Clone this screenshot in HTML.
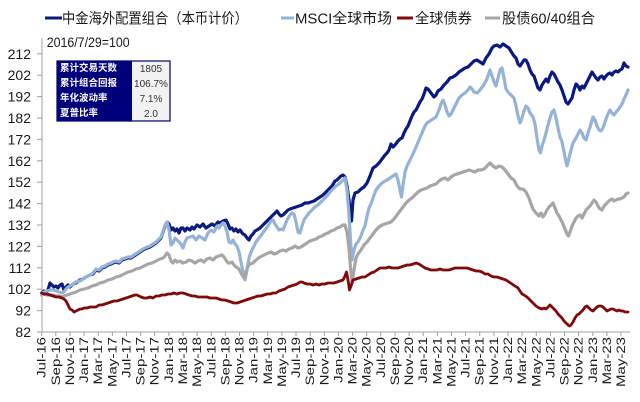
<!DOCTYPE html>
<html><head><meta charset="utf-8"><style>
html,body{margin:0;padding:0;background:#fff;}
svg{display:block;}
text{font-family:"Liberation Sans","Noto Sans CJK SC",sans-serif;fill:#1a1a1a;}
</style></head><body>
<svg width="640" height="402" viewBox="0 0 640 402" xmlns="http://www.w3.org/2000/svg">
<rect width="640" height="402" fill="#fff"/>
<!-- legend -->
<line x1="45" y1="18" x2="62" y2="18" stroke="#0a1a7f" stroke-width="3"/>
<text x="62" y="23.5" font-size="14.5" textLength="186" lengthAdjust="spacingAndGlyphs">中金海外配置组合（本币计价）</text>
<line x1="281" y1="18" x2="294" y2="18" stroke="#95b3d7" stroke-width="3"/>
<text x="295" y="23.5" font-size="14.5" textLength="97" lengthAdjust="spacingAndGlyphs">MSCI全球市场</text>
<line x1="397" y1="18" x2="413" y2="18" stroke="#7f0a0a" stroke-width="3"/>
<text x="415" y="23.5" font-size="14.5" textLength="57" lengthAdjust="spacingAndGlyphs">全球债券</text>
<line x1="485" y1="18" x2="500" y2="18" stroke="#a6a6a6" stroke-width="3"/>
<text x="502" y="23.5" font-size="14.5" textLength="93" lengthAdjust="spacingAndGlyphs">股债60/40组合</text>

<!-- axes -->
<g stroke="#a0a0a0" stroke-width="1">
<line x1="42" y1="38" x2="42" y2="332"/>
<line x1="42" y1="332" x2="630" y2="332"/>
<line x1="37" y1="53.8" x2="42" y2="53.8"/><line x1="37" y1="75.2" x2="42" y2="75.2"/><line x1="37" y1="96.6" x2="42" y2="96.6"/><line x1="37" y1="118" x2="42" y2="118"/><line x1="37" y1="139.4" x2="42" y2="139.4"/><line x1="37" y1="160.8" x2="42" y2="160.8"/><line x1="37" y1="182.2" x2="42" y2="182.2"/><line x1="37" y1="203.6" x2="42" y2="203.6"/><line x1="37" y1="225" x2="42" y2="225"/><line x1="37" y1="246.4" x2="42" y2="246.4"/><line x1="37" y1="267.8" x2="42" y2="267.8"/><line x1="37" y1="289.2" x2="42" y2="289.2"/><line x1="37" y1="310.6" x2="42" y2="310.6"/><line x1="37" y1="332" x2="42" y2="332"/>
</g>
<g stroke="#a0a0a0" stroke-width="1">
<line x1="41.7" y1="332" x2="41.7" y2="336"/><line x1="55.8" y1="332" x2="55.8" y2="336"/><line x1="70" y1="332" x2="70" y2="336"/><line x1="84.1" y1="332" x2="84.1" y2="336"/><line x1="98.2" y1="332" x2="98.2" y2="336"/><line x1="112.4" y1="332" x2="112.4" y2="336"/><line x1="126.5" y1="332" x2="126.5" y2="336"/><line x1="140.6" y1="332" x2="140.6" y2="336"/><line x1="154.7" y1="332" x2="154.7" y2="336"/><line x1="168.9" y1="332" x2="168.9" y2="336"/><line x1="183" y1="332" x2="183" y2="336"/><line x1="197.1" y1="332" x2="197.1" y2="336"/><line x1="211.3" y1="332" x2="211.3" y2="336"/><line x1="225.4" y1="332" x2="225.4" y2="336"/><line x1="239.5" y1="332" x2="239.5" y2="336"/><line x1="253.7" y1="332" x2="253.7" y2="336"/><line x1="267.8" y1="332" x2="267.8" y2="336"/><line x1="281.9" y1="332" x2="281.9" y2="336"/><line x1="296" y1="332" x2="296" y2="336"/><line x1="310.2" y1="332" x2="310.2" y2="336"/><line x1="324.3" y1="332" x2="324.3" y2="336"/><line x1="338.4" y1="332" x2="338.4" y2="336"/><line x1="352.6" y1="332" x2="352.6" y2="336"/><line x1="366.7" y1="332" x2="366.7" y2="336"/><line x1="380.8" y1="332" x2="380.8" y2="336"/><line x1="395" y1="332" x2="395" y2="336"/><line x1="409.1" y1="332" x2="409.1" y2="336"/><line x1="423.2" y1="332" x2="423.2" y2="336"/><line x1="437.3" y1="332" x2="437.3" y2="336"/><line x1="451.5" y1="332" x2="451.5" y2="336"/><line x1="465.6" y1="332" x2="465.6" y2="336"/><line x1="479.7" y1="332" x2="479.7" y2="336"/><line x1="493.9" y1="332" x2="493.9" y2="336"/><line x1="508" y1="332" x2="508" y2="336"/><line x1="522.1" y1="332" x2="522.1" y2="336"/><line x1="536.3" y1="332" x2="536.3" y2="336"/><line x1="550.4" y1="332" x2="550.4" y2="336"/><line x1="564.5" y1="332" x2="564.5" y2="336"/><line x1="578.6" y1="332" x2="578.6" y2="336"/><line x1="592.8" y1="332" x2="592.8" y2="336"/><line x1="606.9" y1="332" x2="606.9" y2="336"/><line x1="621" y1="332" x2="621" y2="336"/>
</g>

<!-- y labels -->
<g font-size="14" text-anchor="end">
<text x="31" y="58.8">212</text><text x="31" y="80.2">202</text><text x="31" y="101.6">192</text><text x="31" y="123">182</text><text x="31" y="144.4">172</text><text x="31" y="165.8">162</text><text x="31" y="187.2">152</text><text x="31" y="208.6">142</text><text x="31" y="230">132</text><text x="31" y="251.4">122</text><text x="31" y="272.8">112</text><text x="31" y="294.2">102</text><text x="31" y="315.6">92</text><text x="31" y="337">82</text>
</g>

<!-- x labels -->
<g font-size="15" text-anchor="end">
<text transform="translate(45.7,337) scale(0.78,1) rotate(-90)">Jul-16</text>
<text transform="translate(59.8,337) scale(0.78,1) rotate(-90)">Sep-16</text>
<text transform="translate(74,337) scale(0.78,1) rotate(-90)">Nov-16</text>
<text transform="translate(88.1,337) scale(0.78,1) rotate(-90)">Jan-17</text>
<text transform="translate(102.2,337) scale(0.78,1) rotate(-90)">Mar-17</text>
<text transform="translate(116.4,337) scale(0.78,1) rotate(-90)">May-17</text>
<text transform="translate(130.5,337) scale(0.78,1) rotate(-90)">Jul-17</text>
<text transform="translate(144.6,337) scale(0.78,1) rotate(-90)">Sep-17</text>
<text transform="translate(158.7,337) scale(0.78,1) rotate(-90)">Nov-17</text>
<text transform="translate(172.9,337) scale(0.78,1) rotate(-90)">Jan-18</text>
<text transform="translate(187,337) scale(0.78,1) rotate(-90)">Mar-18</text>
<text transform="translate(201.1,337) scale(0.78,1) rotate(-90)">May-18</text>
<text transform="translate(215.3,337) scale(0.78,1) rotate(-90)">Jul-18</text>
<text transform="translate(229.4,337) scale(0.78,1) rotate(-90)">Sep-18</text>
<text transform="translate(243.5,337) scale(0.78,1) rotate(-90)">Nov-18</text>
<text transform="translate(257.7,337) scale(0.78,1) rotate(-90)">Jan-19</text>
<text transform="translate(271.8,337) scale(0.78,1) rotate(-90)">Mar-19</text>
<text transform="translate(285.9,337) scale(0.78,1) rotate(-90)">May-19</text>
<text transform="translate(300,337) scale(0.78,1) rotate(-90)">Jul-19</text>
<text transform="translate(314.2,337) scale(0.78,1) rotate(-90)">Sep-19</text>
<text transform="translate(328.3,337) scale(0.78,1) rotate(-90)">Nov-19</text>
<text transform="translate(342.4,337) scale(0.78,1) rotate(-90)">Jan-20</text>
<text transform="translate(356.6,337) scale(0.78,1) rotate(-90)">Mar-20</text>
<text transform="translate(370.7,337) scale(0.78,1) rotate(-90)">May-20</text>
<text transform="translate(384.8,337) scale(0.78,1) rotate(-90)">Jul-20</text>
<text transform="translate(399,337) scale(0.78,1) rotate(-90)">Sep-20</text>
<text transform="translate(413.1,337) scale(0.78,1) rotate(-90)">Nov-20</text>
<text transform="translate(427.2,337) scale(0.78,1) rotate(-90)">Jan-21</text>
<text transform="translate(441.3,337) scale(0.78,1) rotate(-90)">Mar-21</text>
<text transform="translate(455.5,337) scale(0.78,1) rotate(-90)">May-21</text>
<text transform="translate(469.6,337) scale(0.78,1) rotate(-90)">Jul-21</text>
<text transform="translate(483.7,337) scale(0.78,1) rotate(-90)">Sep-21</text>
<text transform="translate(497.9,337) scale(0.78,1) rotate(-90)">Nov-21</text>
<text transform="translate(512,337) scale(0.78,1) rotate(-90)">Jan-22</text>
<text transform="translate(526.1,337) scale(0.78,1) rotate(-90)">Mar-22</text>
<text transform="translate(540.3,337) scale(0.78,1) rotate(-90)">May-22</text>
<text transform="translate(554.4,337) scale(0.78,1) rotate(-90)">Jul-22</text>
<text transform="translate(568.5,337) scale(0.78,1) rotate(-90)">Sep-22</text>
<text transform="translate(582.6,337) scale(0.78,1) rotate(-90)">Nov-22</text>
<text transform="translate(596.8,337) scale(0.78,1) rotate(-90)">Jan-23</text>
<text transform="translate(610.9,337) scale(0.78,1) rotate(-90)">Mar-23</text>
<text transform="translate(625,337) scale(0.78,1) rotate(-90)">May-23</text>
</g>

<!-- series -->
<g fill="none" stroke-linejoin="round" stroke-linecap="round">
<polyline stroke="#0a1a7f" stroke-width="3.2" points="41.7,293 44,291 46,293 48,290 50,283 52,285 54,287 56,286 58,288 60,285 62,284 64,290 66,287 68,285 70,287 73,284 76,283 80,280 83,279 86,277 90,275 93,274 96,270 99,271 102,268 105,267 108,265 111,264 113,263 116,262 119,263 122,260 125,259 128,258 131,258 134,256 137,254 140,252 143,250 147,248 150,247 153,245 156,243 159,240 161,238 163,232 165,226 167,222 169,224 171,230 173,228 175,231 177,229 179,233 181,228 183,228 185,231 187,228 190,230 192,227 194,229 197,225 200,227 203,224 206,228 209,226 212,224 215,226 218,222 220,223 223,221 226,220 228,224 230,229 232,228 234,231 236,229 238,232 240,230 243,234 245,235 247,238 249,240 251,236 253,234 255,231 257,230 260,228 263,225 266,222 269,219 272,216 275,213 277,211 279,214 281,216 283,215 285,213 288,210 290,209 293,208 296,207 299,206 302,205 305,203 308,203 311,202 314,201 317,199 320,197 323,195 326,192 329,189 332,186 335,181 337,180 339,178 341,176 343,175 345,177 347,186 349,200 350,210 351.5,221 353,200 355,193 358,192 361,189 364,187 367,183 370,176 373,168 376,166 379,163 382,159 385,155 387,153 389,150 391,144 393,147 395,145 398,141 400,139 402,138 404,133 406,129 408,126 410,121 412,116 414,112 416,110 418,106 420,102 422,99 424,94 426,88 428,89 431,93 434,97 436,95 438,91 441,89 444,85 447,82 450,78 453,77 456,75 459,72 462,70 465,68 468,67 471,64 474,61 477,60 480,62 483,64 486,58 489,54 492,48 494,46 497,45 500,47 503,44 506,46 509,48 512,53 514,56 516,58 518,64 520,66 522,63 524,60 526,60 528,64 530,70 532,74 534,76 536,82 538,88 540,90 542,85 544,82 546,79 548,82 550,76 552,72 554,74 556,78 558,82 560,85 562,90 564,96 566,102 568,104 570,101 572,98 574,90 576,84 578,86 580,90 582,86 584,88 586,84 588,80 590,76 592,72 594,75 596,78 598,80 600,77 602,76 604,79 606,76 608,74 610,73 612,75 614,72 616,71 618,72 620,70 622,69 624,63 626,66 628,67"/>
<polyline stroke="#95b3d7" stroke-width="3.2" points="41.7,293 44,292 47,291 50,290 53,290 56,291 59,292 62,293 64,292 66,289 68,287 70,286 73,284 76,282 80,281 83,279 86,277 90,275 93,273 96,269 99,270 102,267 105,266 108,264 111,263 113,262 116,261 119,262 122,259 125,258 128,257 131,257 134,255 137,253 140,251 143,249 147,247 150,246 153,244 156,242 159,239 161,237 163,231 165,225 167,222 169,230 171,245 173,243 175,238 177,240 179,242 181,244 183,248 185,242 187,238 190,237 193,236 196,240 199,236 202,238 205,240 208,233 211,230 214,232 217,226 219,228 221,225 223,223 225,226 227,232 229,242 231,243 233,240 235,244 237,246 239,252 241,262 243,272 245,280 247,270 249,258 251,252 253,248 256,242 259,238 262,234 265,230 268,226 271,221 273,220 275,224 277,227 279,230 281,229 283,230 285,225 287,220 290,215 292,213 294,214 296,222 298,232 300,233 302,226 304,220 306,217 309,213 312,210 315,207 318,205 321,202 324,199 327,196 330,192 333,189 336,186 339,184 341,182 343,180 345,178 347,190 349,215 350.5,240 352,260 354,250 356,244 358,242 361,236 363,230 365,226 367,216 369,208 371,204 373,198 376,190 379,186 382,183 385,181 387,180 390,178 393,176 396,174 398,180 400,190 401.5,197 403,185 405,172 407,166 410,160 413,154 416,147 419,140 422,133 425,126 427,123 430,121 433,119 436,117 439,110 441,104 443,100 445,105 447,112 449,116 451,114 453,110 456,104 459,98 462,95 465,93 468,90 470,87 472,89 474,92 477,93 480,90 483,86 486,81 488,76 490,70 492,76 494,82 496,86 498,78 500,70 502,68 504,78 506,89 508,92 511,95 514,98 516,106 518,116 520,123 522,118 524,111 526,106 528,108 530,113 533,117 535,124 537,138 539,150 540.5,153 542,146 544,140 546,133 548,125 550,118 552,112 554,110 556,118 558,128 560,137 562,142 564,152 566,162 567,166 569,158 571,150 573,143 576,138 578,134 580,130 582,133 584,138 586,140 588,133 590,127 593,117 595,120 597,126 599,130 601,131 603,128 605,122 607,116 610,110 612,113 614,115 616,112 618,110 620,107 622,104 624,99 626,95 628,90"/>
<polyline stroke="#a6a6a6" stroke-width="3.2" points="41.7,295 44,294 47,295 50,295 53,295 56,296 59,296 62,297 64,296 67,295 70,294 73,293 76,292 80,290 84,289 88,288 92,286 96,285 100,283 104,282 108,280 112,279 116,277 120,276 124,274 128,272 132,271 136,269 140,268 144,266 148,264 152,263 156,261 160,259 163,258 165,256 167,253 169,255 171,261 173,263 175,260 177,262 180,261 183,263 186,262 189,260 192,261 195,263 198,261 201,260 204,262 207,259 210,258 213,260 216,257 219,256 222,255 224,257 226,260 228,263 230,263 232,262 234,265 236,267 238,268 240,271 242,275 244,278 246,272 248,266 250,264 253,263 256,260 260,257 264,255 268,253 271,252 274,254 277,253 280,251 283,250 286,251 289,249 292,248 295,246 298,248 301,247 304,245 307,243 310,241 313,240 316,239 319,237 322,236 325,234 328,233 331,231 334,230 337,228 340,227 343,225 345,225 347,232 349,248 350.5,268 352,283 354,270 356,258 358,254 361,250 364,245 367,242 370,238 373,234 376,230 379,227 382,225 385,224 388,223 391,222 394,219 397,215 400,211 403,207 406,203 409,200 412,198 415,195 418,192 421,190 424,189 427,188 430,186 433,185 436,184 439,181 442,179 445,178 448,180 451,177 454,175 457,174 460,173 463,172 466,171 469,170 472,171 475,172 478,170 481,170 484,169 487,166 490,163 493,166 496,168 499,166 502,167 505,170 508,174 511,178 514,180 517,186 520,189 523,189 526,192 529,198 531,204 533,209 535,212 537,214 539,216 541,213 543,217 545,214 547,210 549,207 551,205 553,203 555,208 557,213 559,216 561,220 563,224 565,229 567,234 568.5,236 570,232 572,226 574,222 576,218 578,216 580,215 582,218 584,214 586,210 588,208 590,206 592,203 594,200 596,202 598,206 600,209 602,210 604,206 606,204 608,202 610,200 612,199 614,201 616,200 618,199 620,199 622,198 624,197 626,194 628,193"/>
<polyline stroke="#7f0a0a" stroke-width="2.8" points="41.7,293 44,294 47,294 50,295 53,296 56,297 59,297 62,298 64,299 66,301 68,305 70,309 72,310 74,312 76,311 78,310 80,309 82,309 84,308 87,308 90,307 93,307 96,307 99,305 102,305 105,304 108,303 111,302 114,301 117,301 120,300 123,299 126,298 129,297 132,296 135,295 137,295 139,296 141,297 144,298 147,298 150,297 153,298 156,296 159,296 162,295 165,295 168,294 171,294 174,293 177,294 180,293 183,293 186,294 189,295 192,296 195,296 198,297 201,297 204,297 207,297 210,298 213,298 216,298 219,299 222,300 225,300 228,301 231,302 234,303 237,303 240,302 243,301 246,300 249,299 252,298 255,297 258,296 261,296 264,295 267,294 270,294 273,293 276,293 279,291 282,290 285,289 288,287 291,286 294,285 297,284 300,282 302,282 304,283 307,284 310,284 313,285 316,284 319,285 322,284 325,284 328,283 331,283 334,283 337,282 340,281 343,280 345,276 346.5,272 348,280 349.5,290 351,286 353,280 356,279 359,278 362,277 365,277 368,275 371,273 374,272 377,270 380,268 383,268 386,268 389,267 392,268 395,268 398,268 401,267 404,266 407,265 410,265 413,264 416,263 419,264 422,266 425,268 428,269 431,270 434,270 437,270 440,269 443,270 446,270 449,270 452,269 455,268 458,268 461,268 464,268 467,268 470,269 473,270 476,271 479,271 482,272 485,274 488,274 491,276 494,277 497,277 500,278 503,279 506,280 509,282 512,284 515,286 518,288 520,291 522,294 524,295 527,297 530,300 533,303 536,306 539,308 542,309 544,308 546,309 548,307 550,305 552,307 554,309 556,311 558,314 560,316 562,318 564,321 566,323 568,325 569.5,326 571,325 573,322 575,318 577,315 579,314 581,312 583,310 585,307 587,306 589,308 591,310 593,311 595,309 597,307 599,306 601,306 603,307 605,309 607,311 609,310 611,309 613,309 615,310 617,311 619,310 621,311 623,311 625,312 628,312"/>
</g>

<!-- base note -->
<text x="46.7" y="47" font-size="13.5" textLength="83" lengthAdjust="spacingAndGlyphs">2016/7/29=100</text>

<!-- stats table -->
<rect x="57" y="61" width="113" height="60" fill="#f2f2f2" stroke="#000066" stroke-width="1.2"/>
<rect x="57" y="61" width="75" height="60" fill="#00007a"/>
<g font-size="9.5" font-weight="bold">
<text x="60" y="71" style="fill:#fff">累计交易天数</text>
<text x="60" y="86" style="fill:#fff">累计组合回报</text>
<text x="60" y="101" style="fill:#fff">年化波动率</text>
<text x="60" y="116" style="fill:#fff">夏普比率</text>
</g>
<g font-size="10" text-anchor="middle">
<text x="151" y="72" style="fill:#333">1805</text>
<text x="151" y="87" style="fill:#333">106.7%</text>
<text x="151" y="102" style="fill:#333">7.1%</text>
<text x="151" y="117" style="fill:#333">2.0</text>
</g>
</svg>
</body></html>
